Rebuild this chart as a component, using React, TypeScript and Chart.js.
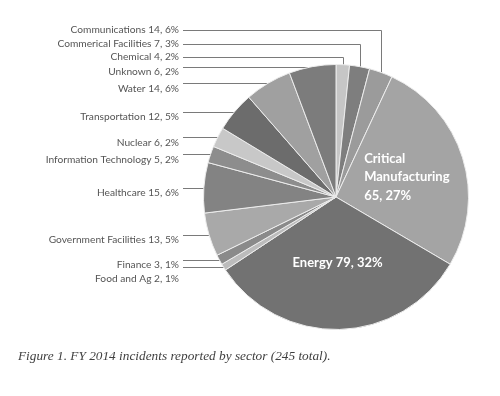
import React, { useEffect, useRef } from "react";
import { Chart, ArcElement, PieController } from "chart.js";

Chart.register(PieController, ArcElement);

// Slices in drawing order, clockwise from 12 o'clock
const categories = [
  "Chemical",
  "Unknown",
  "Commerical Facilities",
  "Critical Manufacturing",
  "Energy",
  "Food and Ag",
  "Finance",
  "Government Facilities",
  "Healthcare",
  "Information Technology",
  "Nuclear",
  "Transportation",
  "Water",
  "Communications",
];
const incidents = [4, 6, 7, 65, 79, 2, 3, 13, 15, 5, 6, 12, 14, 14];
const sliceColors = [
  "#c6c6c6",
  "#7e7e7e",
  "#9b9b9b",
  "#a4a4a4",
  "#727272",
  "#bcbcbc",
  "#8a8a8a",
  "#a9a9a9",
  "#838383",
  "#8d8d8d",
  "#c8c8c8",
  "#6c6c6c",
  "#a0a0a0",
  "#7c7c7c",
];
// Order of the outside label column, top to bottom
const outsideLabelOrder = [
  "Communications",
  "Commerical Facilities",
  "Chemical",
  "Unknown",
  "Water",
  "Transportation",
  "Nuclear",
  "Information Technology",
  "Healthcare",
  "Government Facilities",
  "Finance",
  "Food and Ag",
];
const captionText = "Figure 1. FY 2014 incidents reported by sector (245 total).";

const total = incidents.reduce((a, b) => a + b, 0);
const pct = (v: number) => Math.round((v / total) * 100);
const valueOf = (name: string) => incidents[categories.indexOf(name)];

const pieLabels = {
  id: "pieLabels",
  beforeDatasetsDraw(chart: any) {
    const { ctx, chartArea } = chart;
    const meta = chart.getDatasetMeta(0);
    const arcs = meta.data as any[];
    if (!arcs.length) return;
    const cx = arcs[0].x;
    const cy = arcs[0].y;
    const R = arcs[0].outerRadius;
    const outside = arcs
      .map((arc: any, i: number) => {
        const a = (arc.startAngle + arc.endAngle) / 2 + Math.PI / 2; // clockwise from top
        return { i, a, share: incidents[i] / total };
      })
      .filter((d) => d.share < 0.1);
    const top = outside.filter((d) => d.a < Math.PI / 2).sort((p, q) => q.a - p.a);
    const left = outside.filter((d) => d.a > Math.PI).sort((p, q) => q.a - p.a);
    const targets = [...top, ...left];

    const textRight = chartArea.left - 24;
    const lineStart = chartArea.left - 20;
    const rowGap = 13.5;
    const firstRow = chartArea.top - 34;

    ctx.save();
    ctx.strokeStyle = "#7a7a7a";
    ctx.lineWidth = 1;
    ctx.font = "10.2px Lato";
    ctx.fillStyle = "#555555";
    ctx.textAlign = "right";
    ctx.textBaseline = "middle";
    let prevText = -Infinity;
    targets.forEach((t, row) => {
      const name = outsideLabelOrder[row];
      const v = valueOf(name);
      const label = `${name} ${v}, ${pct(v)}%`;
      let textY: number;
      ctx.beginPath();
      if (t.a < Math.PI / 2) {
        const y = firstRow + row * rowGap;
        const px = cx + R * Math.sin(t.a);
        const rimY = cy - Math.sqrt(R * R - (px - cx) * (px - cx));
        const ly = Math.round(y) + 0.5;
        const lx = Math.round(px) + 0.5;
        ctx.moveTo(lineStart, ly);
        ctx.lineTo(lx, ly);
        ctx.lineTo(lx, rimY + 4);
        textY = y;
      } else {
        const y = cy - R * Math.cos(t.a);
        const rimX = cx - Math.sqrt(Math.max(R * R - (y - cy) * (y - cy), 0));
        const ly = Math.round(y) + 0.5;
        ctx.moveTo(lineStart, ly);
        ctx.lineTo(rimX + 4, ly);
        textY = Math.max(y + 5, prevText + rowGap);
      }
      ctx.stroke();
      ctx.fillText(label, textRight, textY);
      prevText = textY;
    });
    ctx.restore();
  },
  afterDatasetsDraw(chart: any) {
    const { ctx } = chart;
    const meta = chart.getDatasetMeta(0);
    ctx.save();
    ctx.fillStyle = "#ffffff";
    ctx.font = "bold 13px Lato";
    ctx.textBaseline = "middle";
    ctx.textAlign = "left";
    (meta.data as any[]).forEach((arc: any, i: number) => {
      const v = incidents[i];
      if (v / total < 0.1) return;
      const name = categories[i];
      const lines =
        name.length > 10
          ? [...name.split(" "), `${v}, ${pct(v)}%`]
          : [`${name} ${v}, ${pct(v)}%`];
      const mid = (arc.startAngle + arc.endAngle) / 2;
      const f = lines.length > 1 ? 0.56 : 0.48;
      const px = arc.x + Math.cos(mid) * arc.outerRadius * f;
      const py = arc.y + Math.sin(mid) * arc.outerRadius * f + 2;
      const w = Math.max(...lines.map((l) => ctx.measureText(l).width));
      const lh = 18.5;
      lines.forEach((l, k) => {
        ctx.fillText(l, px - w / 2, py + (k - (lines.length - 1) / 2) * lh);
      });
    });
    ctx.restore();
  },
  afterDraw(chart: any) {
    const { ctx, chartArea } = chart;
    ctx.save();
    ctx.font = "italic 13.3px 'Liberation Serif'";
    ctx.fillStyle = "#3f3f3f";
    ctx.textAlign = "left";
    ctx.textBaseline = "middle";
    ctx.fillText(captionText, 18, chartArea.bottom + 27);
    ctx.restore();
  },
};

export default function App() {
  const ref = useRef<HTMLCanvasElement>(null);
  useEffect(() => {
    document.body.style.margin = "0";
    const chart = new Chart(ref.current as HTMLCanvasElement, {
      type: "pie",
      data: {
        labels: categories,
        datasets: [
          {
            data: incidents,
            backgroundColor: sliceColors,
            borderColor: "#ececec",
            borderWidth: 1,
          },
        ],
      },
      options: {
        responsive: false,
        animation: false,
        layout: { padding: { left: 203, right: 31, top: 64, bottom: 66 } },
        plugins: { legend: { display: false }, tooltip: { enabled: false } },
      },
      plugins: [pieLabels],
    });
    return () => chart.destroy();
  }, []);
  return (
    <div style={{ width: 500, height: 396, background: "#ffffff" }}>
      <canvas ref={ref} width={500} height={396} style={{ display: "block" }} />
    </div>
  );
}
